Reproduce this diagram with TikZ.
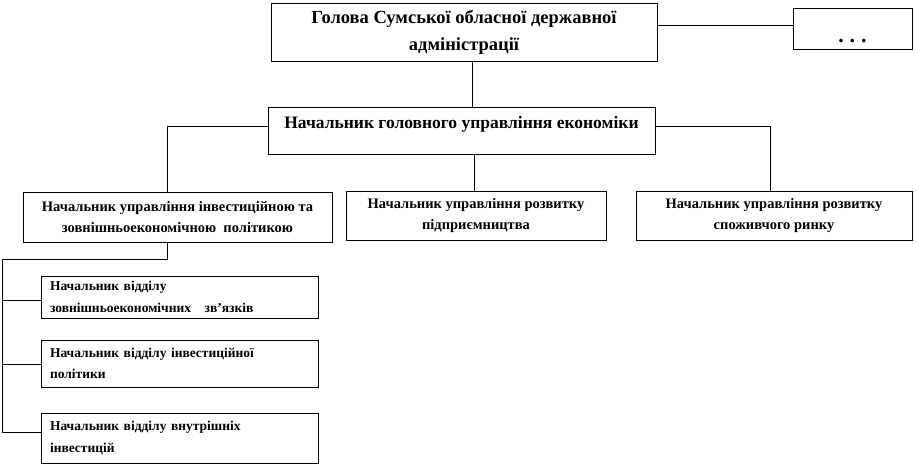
\documentclass[tikz,border=0pt]{standalone}
\usepackage{fontspec}
\setmainfont{Liberation Serif}
\tikzset{
  box/.style={draw, line width=1pt, rectangle, inner sep=0pt, align=center},
  bigtxt/.style={font=\fontsize{18.5}{27}\selectfont\bfseries},
  midbig/.style={font=\fontsize{17.5}{27}\selectfont\bfseries},
  midtxt/.style={font=\fontsize{14.5}{21}\selectfont\bfseries},
  smalltxt/.style={font=\fontsize{13.5}{21.5}\selectfont\bfseries, align=left, text width=259pt, inner xsep=9pt},
  conn/.style={line width=0.8pt}
}
\begin{document}
\begin{tikzpicture}[x=1pt,y=-1pt]
\useasboundingbox (0,0) rectangle (916,466);
% top level
\node[box,bigtxt,minimum width=386pt,minimum height=58pt] (top) at (464,32)
  {Голова Сумської обласної державної\\адміністрації};
\node[box,minimum width=119pt,minimum height=41pt,text height=27pt,text depth=0pt,
  font=\fontsize{22}{24}\selectfont\bfseries] (dots) at (852.5,28.5)
  {.\hspace{6pt}.\hspace{6pt}.};
\node[box,midbig,minimum width=387pt,minimum height=47pt,text height=13pt,text depth=18pt] (mid) at (461.5,130.5)
  {Начальник головного управління економіки};
% third level
\node[box,midtxt,minimum width=309pt,minimum height=50pt] (box1) at (177.5,217)
  {Начальник управління інвестиційною та\\зовнішньоекономічною\ \ політикою};
\node[box,midtxt,minimum width=260pt,minimum height=49pt] (box2) at (476,215.5)
  {Начальник управління розвитку\\підприємництва};
\node[box,midtxt,minimum width=276pt,minimum height=49pt] (box3) at (774,215.5)
  {Начальник управління розвитку\\споживчого ринку};
% fourth level
\node[box,smalltxt,minimum height=42pt] (a) at (179.5,297)
  {Начальник відділу\\зовнішньоекономічних\ \ \ зв’язків};
\node[box,smalltxt,minimum height=47pt] (b) at (179.5,363.5)
  {Начальник відділу інвестиційної\\політики};
\node[box,smalltxt,minimum height=50pt] (c) at (179.5,438)
  {Начальник відділу внутрішніх\\інвестицій};
% helper coordinates
\coordinate (trunk) at (472,0);
\coordinate (trunkb) at (474,0);
\coordinate (b1x) at (167,0);
\coordinate (b3x) at (770,0);
\coordinate (railtop) at (2,259);
\coordinate (railbot) at (2,432);
% connectors
\draw[conn] ([yshift=7pt]top.east) -- ([yshift=7pt]top.east -| dots.west);
\draw[conn] (top.south -| trunk) -- (mid.north -| trunk);
\draw[conn] ([yshift=4.5pt]mid.west) -| (box1.north -| b1x);
\draw[conn] ([yshift=4.5pt]mid.east) -| (box3.north -| b3x);
\draw[conn] (mid.south -| trunkb) -- (box2.north -| trunkb);
\draw[conn] (box1.south -| b1x) |- (railtop) -- (railbot) -- ([yshift=6pt]c.west);
\draw[conn] ([yshift=-3pt]a.west -| railtop) -- ([yshift=-3pt]a.west);
\draw[conn] ([yshift=-0.5pt]b.west -| railtop) -- ([yshift=-0.5pt]b.west);
\end{tikzpicture}
\end{document}
